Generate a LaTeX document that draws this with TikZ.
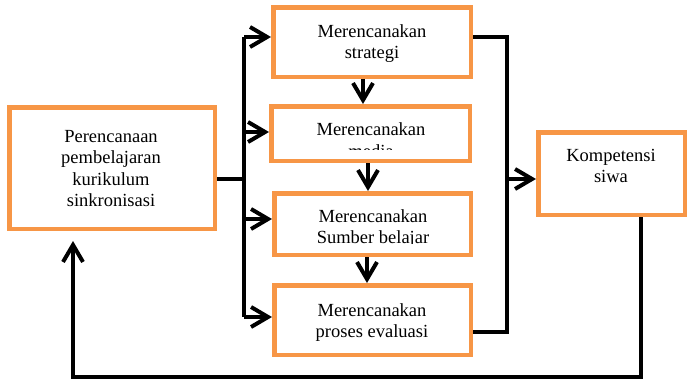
\documentclass[tikz,border=0pt]{standalone}
\usepackage{fontspec}
\setmainfont{Liberation Serif}
\usetikzlibrary{arrows.meta}
\definecolor{boxorange}{HTML}{F79646}
\begin{document}
\begin{tikzpicture}[x=1pt,y=-1pt,
  box/.style={draw=boxorange,line width=4.5pt,fill=white,inner sep=0pt},
  boxtext/.style={font=\fontsize{18.5}{21.2}\selectfont,align=center,inner sep=0pt},
  conn/.style={line width=4pt},
  arr/.style={conn,-{Straight Barb[length=17pt,width=20pt]}}]
\useasboundingbox (0,0) rectangle (694,380);

% boxes
\node[box,minimum width=205.5pt,minimum height=121.5pt] (b0) at (112,168) {};
\node[box,minimum width=197.5pt,minimum height=69.5pt] (b1) at (372,42) {};
\node[box,minimum width=198.5pt,minimum height=54.5pt] (b2) at (370.5,133.5) {};
\node[box,minimum width=196.5pt,minimum height=61.5pt] (b3) at (372.5,224) {};
\node[box,minimum width=196.5pt,minimum height=69.5pt] (b4) at (372.5,320) {};
\node[box,minimum width=146.5pt,minimum height=82.5pt] (b5) at (611.5,173.5) {};

% box texts
\node[boxtext] (t0) at (111,168.5) {Perencanaan\\pembelajaran\\kurikulum\\sinkronisasi};
\node[boxtext] (t1) at (372,43.2) {Merencanakan\\strategi};
\begin{scope}
  \clip (275,108) rectangle (468,149.5);
  \node[boxtext] (t2) at (371,140.2) {Merencanakan\\media};
\end{scope}
\begin{scope}
  \clip (276,195) rectangle (469,243);
  \node[boxtext] (t3) at (373,228.5) {Merencanakan\\Sumber belajar};
\end{scope}
\node[boxtext] (t4) at (372,322.4) {Merencanakan\\proses evaluasi};
\node[boxtext] (t5) at (611,166.2) {Kompetensi\\siwa};

% distribution bus on the left
\coordinate (busIn) at (244,179);
\coordinate (busTop) at (244,37);
\coordinate (busBot) at (244,317);
\coordinate (r2) at (244,132);
\coordinate (r3) at (244,219);
\draw[conn] (b0.east |- busIn) -- (busIn);
\draw[conn] (busTop) -- (busBot);
\draw[arr] (busTop) -- (busTop -| b1.west);
\draw[arr] (r2) -- (r2 -| b2.west);
\draw[arr] (r3) -- (r3 -| b3.west);
\draw[arr] (busBot) -- (busBot -| b4.west);

% chain of planning steps
\coordinate (d1) at (363,0);
\coordinate (d2) at (368,0);
\coordinate (d3) at (367,0);
\draw[arr] (d1 |- b1.south) -- (d1 |- b2.north);
\draw[arr] (d2 |- b2.south) -- (d2 |- b3.north);
\draw[arr] (d3 |- b3.south) -- (d3 |- b4.north);

% collecting bus on the right
\coordinate (outTop) at (507,37);
\coordinate (outBot) at (507,332);
\coordinate (outMid) at (507,179);
\draw[conn] (b1.east |- outTop) -- (outTop) -- (outBot) -- (outBot -| b4.east);
\draw[arr] (outMid) -- (outMid -| b5.west);

% feedback loop
\coordinate (fbR) at (641,377);
\coordinate (fbL) at (73,377);
\coordinate (fbTip) at (73,241);
\draw[arr] (fbR |- b5.south) -- (fbR) -- (fbL) -- (fbTip);
\end{tikzpicture}
\end{document}
